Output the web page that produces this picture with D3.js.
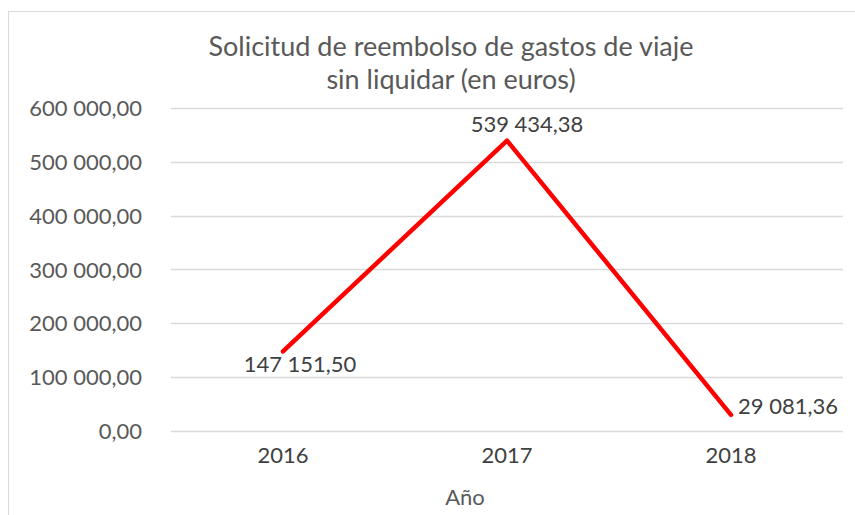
<!DOCTYPE html>
<html>
<head>
<meta charset="utf-8">
<script src="https://cdn.jsdelivr.net/npm/d3@7"></script>
<style>
  body { margin: 0; background: #fff; }
  svg { display: block; font-family: Lato, "Noto Sans", sans-serif; }
</style>
</head>
<body>
<div id="chart"></div>
<script>
// Chart data
const years = ["2016", "2017", "2018"];
const amounts = [147151.50, 539434.38, 29081.36];
const yTicks = [0, 100000, 200000, 300000, 400000, 500000, 600000];
const titleLines = ["Solicitud de reembolso de gastos de viaje", "sin liquidar (en euros)"];
const xTitle = "Año";

// Dimensions
const W = 855, H = 515;
const plot = { left: 171, right: 843, top: 108, bottom: 430.5 };

// Spanish number format: space for thousands, comma for decimals
const es = d3.formatLocale({ decimal: ",", thousands: " ", grouping: [3], currency: ["", " €"] });
const fmt = es.format(",.2f");

const svg = d3.select("#chart")
    .append("svg")
    .attr("width", W)
    .attr("height", H);

// Chart border (cropped on the right and bottom in the original)
svg.append("rect")
    .attr("x", 8.5)
    .attr("y", 11.5)
    .attr("width", W + 20)
    .attr("height", H + 20)
    .attr("fill", "none")
    .attr("stroke", "#d9d9d9")
    .attr("stroke-width", 1);

// Scales
const x = d3.scaleBand()
    .domain(years)
    .range([plot.left, plot.right]);

const y = d3.scaleLinear()
    .domain([0, 600000])
    .range([plot.bottom, plot.top]);

// Gridlines
svg.append("g")
    .selectAll("line")
    .data(yTicks)
    .enter()
    .append("line")
    .attr("x1", plot.left)
    .attr("x2", plot.right)
    .attr("y1", d => Math.round(y(d)) + 0.5)
    .attr("y2", d => Math.round(y(d)) + 0.5)
    .attr("stroke", "#d9d9d9")
    .attr("stroke-width", 1.3);

// Y axis labels
const yAxis = svg.append("g")
    .attr("transform", `translate(${plot.left - 29},0)`)
    .call(d3.axisLeft(y).tickValues(yTicks).tickFormat(fmt).tickSize(0).tickPadding(0));
yAxis.select(".domain").remove();
yAxis.selectAll("text")
    .attr("font-family", "Lato, sans-serif")
    .style("font-size", "22px")
    .attr("fill", "#595959")
    .attr("dy", "0.36em");

// X axis labels
const xAxis = svg.append("g")
    .attr("transform", `translate(0,${plot.bottom})`)
    .call(d3.axisBottom(x).tickSize(0).tickPadding(0));
xAxis.select(".domain").remove();
xAxis.selectAll("text")
    .attr("font-family", "Lato, sans-serif")
    .style("font-size", "22px")
    .attr("fill", "#404040")
    .attr("y", 0)
    .attr("dy", 32);

// Title
svg.append("text")
    .attr("text-anchor", "middle")
    .style("font-size", "27px")
    .attr("fill", "#595959")
    .selectAll("tspan")
    .data(titleLines)
    .enter()
    .append("tspan")
    .attr("x", 451)
    .attr("y", (d, i) => 56 + i * 33)
    .text(d => d);

// X axis title
svg.append("text")
    .attr("x", 465)
    .attr("y", 505)
    .attr("text-anchor", "middle")
    .style("font-size", "22px")
    .attr("fill", "#595959")
    .text(xTitle);

// Line
const line = d3.line()
    .x((d, i) => x(years[i]) + x.bandwidth() / 2)
    .y(d => y(d));

svg.append("path")
    .datum(amounts)
    .attr("fill", "none")
    .attr("stroke", "#ff0000")
    .attr("stroke-width", 4.5)
    .attr("stroke-linecap", "round")
    .attr("stroke-linejoin", "round")
    .attr("d", line);

// Data labels (placed like the original: below, above, right)
const labelOffsets = [
    { dx: 17, dy: 21, anchor: "middle" },
    { dx: 20, dy: -9, anchor: "middle" },
    { dx: 7, dy: -1, anchor: "start" }
];

svg.append("g")
    .selectAll("text")
    .data(amounts)
    .enter()
    .append("text")
    .attr("x", (d, i) => x(years[i]) + x.bandwidth() / 2 + labelOffsets[i].dx)
    .attr("y", (d, i) => y(d) + labelOffsets[i].dy)
    .attr("text-anchor", (d, i) => labelOffsets[i].anchor)
    .style("font-size", "22px")
    .attr("fill", "#404040")
    .text(d => fmt(d));
</script>
</body>
</html>
